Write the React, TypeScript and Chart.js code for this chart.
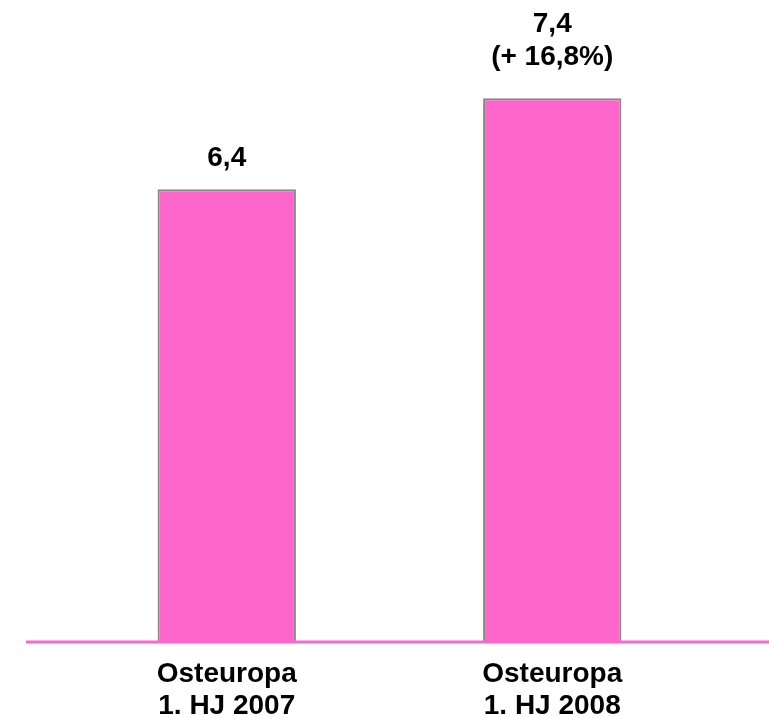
import React, { useEffect, useRef } from "react";
import { Chart, registerables } from "chart.js";

Chart.register(...registerables);

const categories: string[][] = [
  ["Osteuropa", "1. HJ 2007"],
  ["Osteuropa", "1. HJ 2008"],
];
const values: number[] = [6.4, 7.4];
const valueLabels: string[][] = [["6,4"], ["7,4", "(+ 16,8%)"]];
const yMin = 1.42;
const yMax = 8.48;

const FONT = "Liberation Sans, Arial, Helvetica, sans-serif";

const labelPlugin = {
  id: "valueLabels",
  afterDatasetsDraw(chart: any) {
    const { ctx, chartArea } = chart;
    // baseline
    ctx.save();
    ctx.strokeStyle = "#FF66CC";
    ctx.lineWidth = 3;
    ctx.beginPath();
    ctx.moveTo(26, chartArea.bottom);
    ctx.lineTo(chart.width, chartArea.bottom);
    ctx.stroke();
    // value labels
    const meta = chart.getDatasetMeta(0);
    ctx.fillStyle = "#000";
    ctx.font = `bold 28px ${FONT}`;
    ctx.textAlign = "center";
    ctx.textBaseline = "alphabetic";
    meta.data.forEach((bar: any, i: number) => {
      const lines = valueLabels[i];
      const n = lines.length;
      const gap = n > 1 ? 33 : 23;
      lines.forEach((t, j) => {
        const y = bar.y - gap - (n - 1 - j) * 33;
        ctx.fillText(t, bar.x, y);
      });
    });
    ctx.restore();
  },
};

export default function App() {
  const ref = useRef<HTMLCanvasElement>(null);
  useEffect(() => {
    document.body.style.margin = "0";
    const chart = new Chart(ref.current!, {
      type: "bar",
      data: {
        labels: categories,
        datasets: [
          {
            data: values,
            backgroundColor: "#FF66CC",
            borderColor: "#888888",
            borderWidth: 2,
            barPercentage: 0.425,
            categoryPercentage: 1,
          },
        ],
      },
      options: {
        animation: false,
        responsive: false,
        maintainAspectRatio: false,
        layout: { padding: { left: 64, right: 54, top: 0, bottom: 0 } },
        plugins: { legend: { display: false }, tooltip: { enabled: false } },
        scales: {
          y: {
            display: false,
            min: yMin,
            max: yMax,
          },
          x: {
            grid: { display: false, drawTicks: false },
            border: { display: false },
            ticks: {
              color: "#000",
              font: { family: FONT, size: 28, weight: "bold", lineHeight: 32 / 28 },
              padding: 16,
              maxRotation: 0,
            },
            afterFit(scale: any) {
              scale.height = 77;
            },
          },
        },
      },
      plugins: [labelPlugin],
    });
    return () => chart.destroy();
  }, []);
  return (
    <div style={{ position: "absolute", left: 0, top: 0, width: 769, height: 719 }}>
      <canvas ref={ref} width={769} height={719} />
    </div>
  );
}
